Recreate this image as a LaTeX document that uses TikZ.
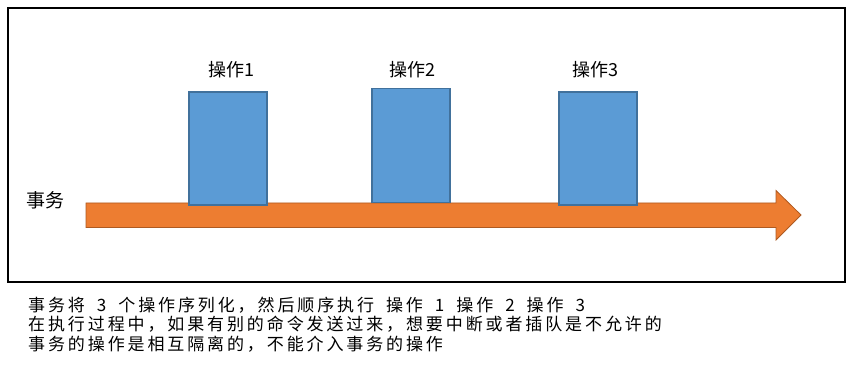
\documentclass[tikz,border=0pt]{standalone}
\usepackage{fontspec}
\setmainfont{Noto Sans CJK SC}
\newfontfamily\spacedcjk[LetterSpace=17]{Noto Sans CJK SC}
\usepackage{tikz}
\usetikzlibrary{positioning}
\usepackage{xcolor}

\definecolor{opblue}{HTML}{5B9BD5}
\definecolor{opedge}{HTML}{41719C}
\definecolor{txorange}{HTML}{ED7D31}
\definecolor{txedge}{HTML}{AE5A21}

\newcommand{\notefont}{\spacedcjk\fontsize{17}{19}\selectfont}
\newcommand{\gap}{\hspace{12pt}}

\tikzset{
  opbox/.style={draw=opedge, fill=opblue, line width=1.6pt, minimum width=78pt, minimum height=113pt, inner sep=0pt},
  oplabel/.style={font=\fontsize{18}{20}\selectfont, inner sep=0pt},
  note/.style={font=\notefont, anchor=west, inner sep=0pt}
}

\begin{document}
\begin{tikzpicture}[x=1pt, y=1pt]
  \useasboundingbox (0,0) rectangle (849,380);

  % Frame
  \draw[line width=2pt] (8,98) rectangle (845,372);

  % Define coordinates for the transaction arrow
  \coordinate (a1) at (86,177);
  \coordinate (a2) at (776,177);
  \coordinate (a3) at (776,189.5);
  \coordinate (tip) at (801,165);
  \coordinate (a4) at (776,140);
  \coordinate (a5) at (776,152.5);
  \coordinate (a6) at (86,152.5);
  \draw[draw=txedge, fill=txorange, line width=0.8pt, line join=miter]
    (a1) -- (a2) -- (a3) -- (tip) -- (a4) -- (a5) -- (a6) -- cycle;

  % Operations
  \node[opbox] (op1) at (228,231.5) {};
  \node[opbox, minimum height=114pt] (op2) at (411,234.5) {};
  \node[opbox] (op3) at (597.75,231.75) {};

  \node[oplabel] (l1) at (231,310) {操作1};
  \node[oplabel] (l2) at (412,310) {操作2};
  \node[oplabel] (l3) at (595,310) {操作3};

  \node[font=\fontsize{19}{21}\selectfont, inner sep=0pt] (tx) at (46,180) {事务};

  % Notes below the frame
  \node[note] (n1) at (28,75) {事务将\gap{}3\gap{}个操作序列化，然后顺序执行\gap{}操作\gap{}1\gap{}操作\gap{}2\gap{}操作\gap{}3};
  \node[note] (n2) at (28,55.5) {在执行过程中，如果有别的命令发送过来，想要中断或者插队是不允许的};
  \node[note] (n3) at (28,36) {事务的操作是相互隔离的，不能介入事务的操作};
\end{tikzpicture}
\end{document}
